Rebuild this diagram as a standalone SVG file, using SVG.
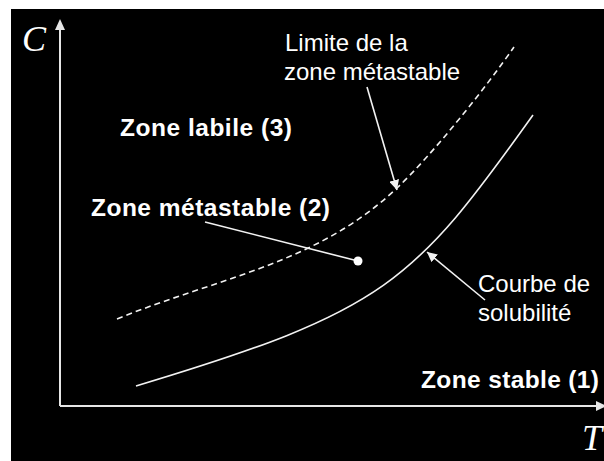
<svg xmlns="http://www.w3.org/2000/svg" width="604" height="461" viewBox="0 0 604 461">
<style>
.lbl{font-family:"Liberation Sans",Arial,sans-serif;fill:#fff}
.b{font-weight:bold;font-size:24.5px}
.r{font-size:24px}
.ax{font-family:"Liberation Serif","Times New Roman",serif;font-style:italic;fill:#fff;font-size:36px}
.ln{fill:none;stroke:#f2f2f2;stroke-width:1.6}
.axis{fill:none;stroke:#e6e6e6;stroke-width:2}
</style>
<defs>
<marker id="ah" viewBox="0 0 10 10" refX="10" refY="5" markerWidth="10" markerHeight="10" markerUnits="userSpaceOnUse" orient="auto">
<path d="M0,0 L10,5 L0,10 z" fill="#f2f2f2"/>
</marker>
</defs>
<rect width="604" height="461" fill="#fff"/>
<rect x="11" y="9" width="593" height="452" fill="#000"/>
<g id="axes">
<line class="axis" x1="60" y1="406" x2="60" y2="28"/>
<path d="M60,19 L55,30 L65,30 z" fill="#e6e6e6"/>
<line class="axis" x1="60" y1="406" x2="598" y2="406"/>
<path d="M607,406 L596,401 L596,411 z" fill="#e6e6e6"/>
</g>
<g id="label-C"><text class="ax" x="22" y="51">C</text></g>
<g id="label-T"><text class="ax" x="582" y="450">T</text></g>
<g id="curves">
<path id="metastable-limit" class="ln" stroke-dasharray="6,4" d="M117,319 C217,278 317,264 397,188 C432,155 484,90 514,47"/>
<path id="solubility-curve" class="ln" d="M136,386 C386,311 413,283 533,115"/>
</g>
<g id="connectors">
<line class="ln" x1="367" y1="87" x2="397" y2="190" marker-end="url(#ah)"/>
<line class="ln" x1="205" y1="222" x2="358" y2="261"/>
<circle cx="358" cy="261" r="4.5" fill="#fff"/>
<line class="ln" x1="485" y1="300" x2="427" y2="252" marker-end="url(#ah)"/>
</g>
<g id="zone-labile"><text class="lbl b" x="120" y="136" textLength="172" lengthAdjust="spacing">Zone labile (3)</text></g>
<g id="zone-metastable"><text class="lbl b" x="91" y="216" textLength="239" lengthAdjust="spacing">Zone métastable (2)</text></g>
<g id="zone-stable"><text class="lbl b" x="421" y="388" textLength="178" lengthAdjust="spacing">Zone stable (1)</text></g>
<g id="limite-label">
<text class="lbl r" x="285" y="51">Limite de la</text>
<text class="lbl r" x="284" y="80">zone métastable</text>
</g>
<g id="courbe-label">
<text class="lbl r" x="478" y="292">Courbe de</text>
<text class="lbl r" x="478" y="321">solubilité</text>
</g>
</svg>
